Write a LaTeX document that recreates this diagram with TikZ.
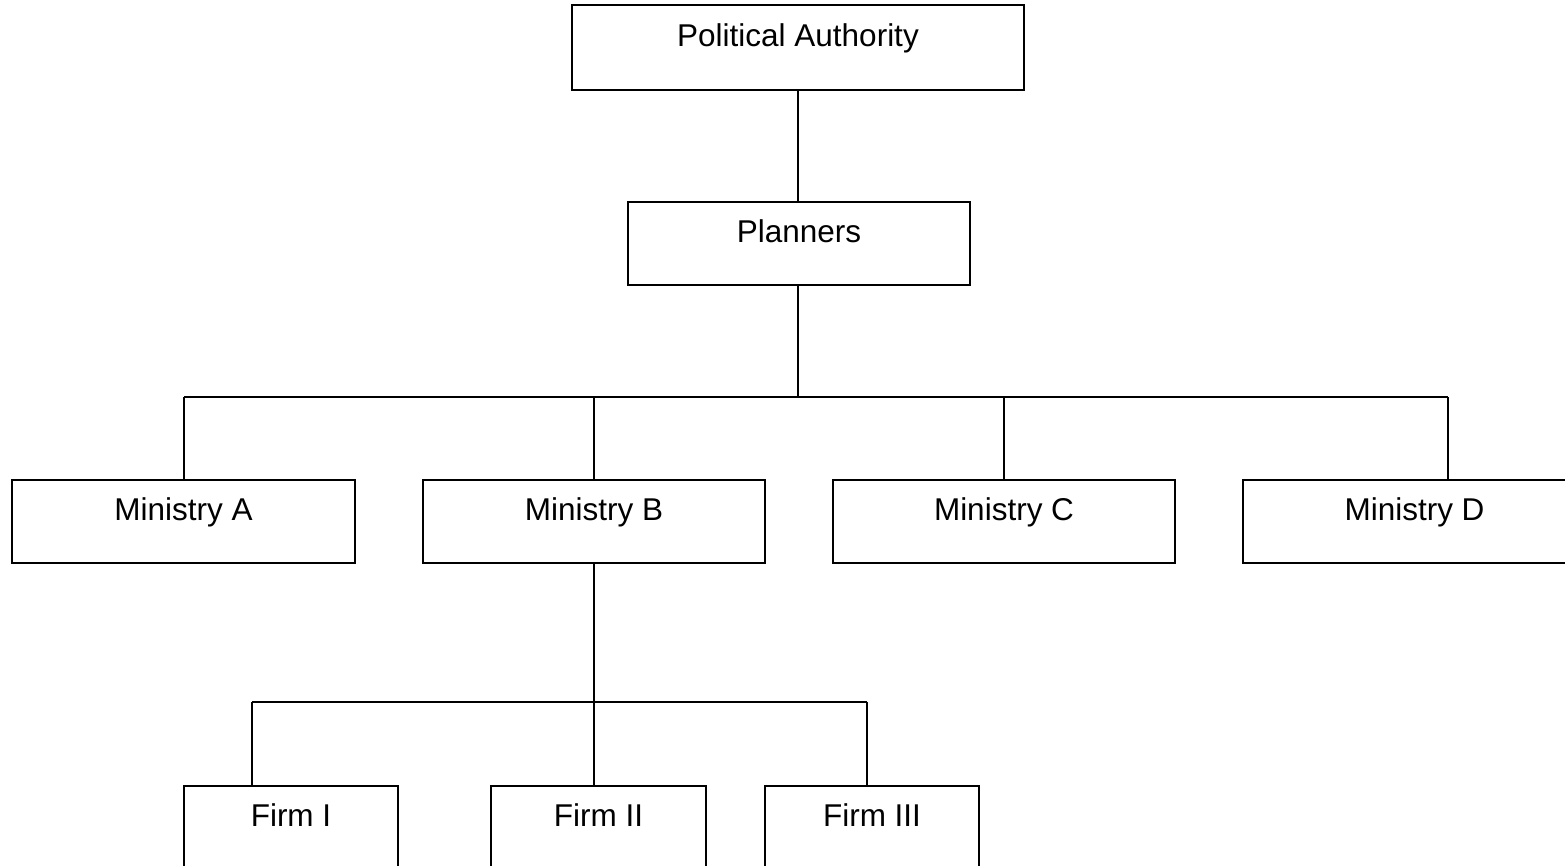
\documentclass[tikz,border=0pt]{standalone}
\usepackage{fontspec}
\setmainfont{Liberation Sans}
\begin{document}
\begin{tikzpicture}[x=1pt,y=-1pt,
  box/.style={draw, line width=1.8pt, inner sep=0pt, rectangle, minimum height=83pt},
  lbl/.style={anchor=base, inner sep=0pt, font=\fontsize{31.5}{37}\selectfont},
  link/.style={line width=1.4pt}]
\useasboundingbox (0,0) rectangle (1565,866);
\clip (0,0) rectangle (1565,866);

% top of the hierarchy
\node[box, minimum width=452pt, minimum height=85pt] (pa) at (798,47.5) {};
\node[box, minimum width=342pt] (pl) at (799,243.5) {};

% ministries
\node[box, minimum width=343pt] (ma) at (183.5,521.5) {};
\node[box, minimum width=342pt] (mb) at (594,521.5) {};
\node[box, minimum width=342pt] (mc) at (1004,521.5) {};
\node[box, minimum width=343pt] (md) at (1414.5,521.5) {};

% firms under ministry B
\node[box, minimum width=214pt] (fa) at (291,827.5) {};
\node[box, minimum width=215pt] (fb) at (598.5,827.5) {};
\node[box, minimum width=214pt] (fc) at (872,827.5) {};

% labels
\node[lbl] (tpa) at ([yshift=-42pt]pa.north) {Political Authority};
\node[lbl] (tpl) at ([yshift=-41pt]pl.north) {Planners};
\node[lbl] (tma) at ([yshift=-41pt]ma.north) {Ministry A};
\node[lbl] (tmb) at ([yshift=-41pt]mb.north) {Ministry B};
\node[lbl] (tmc) at ([yshift=-41pt]mc.north) {Ministry C};
\node[lbl] (tmd) at ([yshift=-41pt]md.north) {Ministry D};
\node[lbl] (tfa) at ([yshift=-41pt]fa.north) {Firm I};
\node[lbl] (tfb) at ([yshift=-41pt]fb.north) {Firm II};
\node[lbl] (tfc) at ([yshift=-41pt]fc.north) {Firm III};

% junction points of the two busses
\coordinate (ja) at (184,397);
\coordinate (jb) at (594,397);
\coordinate (jc) at (1004,397);
\coordinate (jd) at (1448,397);
\coordinate (ka) at (252,702);
\coordinate (kb) at (594,702);
\coordinate (kc) at (867,702);

% connectors
\draw[link] (pa.south) -- (pa.south |- pl.north);
\draw[link] (pa.south |- pl.south) -- (pa.south |- ja);
\draw[link] (ja) -- (jd);
\draw[link] (ja) -- (ja |- ma.north);
\draw[link] (jb) -- (jb |- mb.north);
\draw[link] (jc) -- (jc |- mc.north);
\draw[link] (jd) -- (jd |- md.north);
\draw[link] (mb.south) -- (kb);
\draw[link] (ka) -- (kc);
\draw[link] (ka) -- (ka |- fa.north);
\draw[link] (kb) -- (kb |- fb.north);
\draw[link] (kc) -- (kc |- fc.north);
\end{tikzpicture}
\end{document}
